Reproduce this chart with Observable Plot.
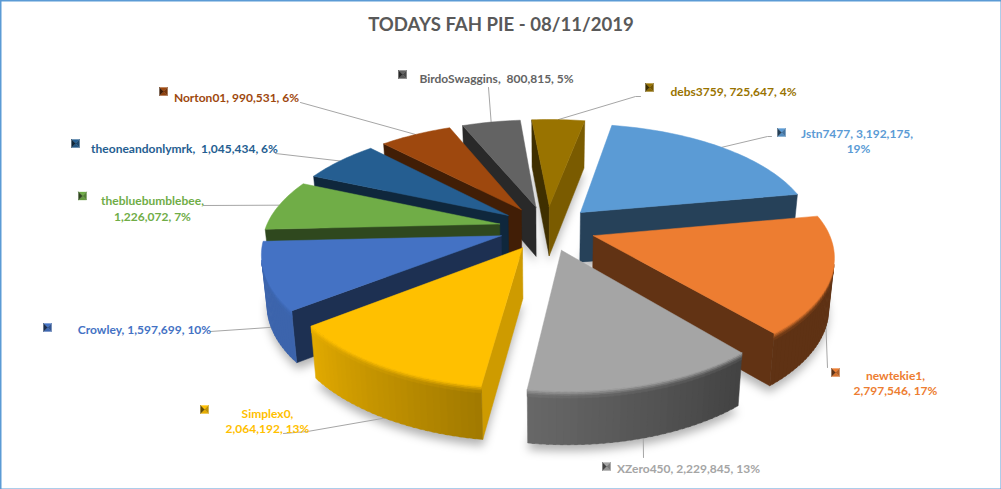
<!DOCTYPE html>
<html>
<head>
<meta charset="utf-8">
<script src="https://cdn.jsdelivr.net/npm/d3@7"></script>
<script src="https://cdn.jsdelivr.net/npm/@observablehq/plot@0.6"></script>
<style>html,body{margin:0;padding:0;background:#fff}svg{display:block}</style>
</head>
<body>
<div id="chart"></div>
<script>
// ---- data, as printed on the chart ----
const names = ["Jstn7477","newtekie1","XZero450","Simplex0","Crowley","thebluebumblebee","theoneandonlymrk","Norton01","BirdoSwaggins","debs3759"];
const values = [3192175,2797546,2229845,2064192,1597699,1226072,1045434,990531,800815,725647];
const percents = [19,17,13,13,10,7,6,6,5,4];
const separators = [", ",",\n",", ",",\n",", ",",\n",",  ",", ",",  ",", "];
const valueBreaks = [", \n",", ",", ",", ",", ",", ",", ",", ",", ",", "];
const colors = ["#5B9BD5","#ED7D31","#A5A5A5","#FFC000","#4472C4","#70AD47","#255E91","#9E480E","#636363","#997300"];
const titleText = "TODAYS FAH PIE - 08/11/2019";

// ---- layout ----
const W = 1001, H = 489;
const cx = 546.5, cy = 227.5, R = 234, Q = 0.463, K = 0.17, KX_FRONT = 0.15, SHEAR = 3.5, EXPLODE = 0.207, DEPTH = 50;
const firstAngle = 10.6;
const paintOrder = [9,8,7,6,5,4,3,0,1,2];
const labelX = [858,895,688,267,144,152,184,236,496,733];
const labelY = [140,382,467,420,328,207.5,147,96,77,90];
const keyX = [781,835,606,204,47,82,75,163,402,649];
const keyY = [132,372,466,409,327,195.5,143,91,74,87];
const leaderDepth = [0,1,1,1,1,0,0,0,0,0];
const elbows = [[[767,136],[771,136]],[[827,367]],[[643,457]],[[307,431],[283,433]],[[210,331]],[[203,205]],[[275,153]],[[300,102]],[[488,87]],[[635,96],[640,96]]];

const rad = d => d * Math.PI / 180;
const arcs = d3.pie().sort(null).startAngle(rad(firstAngle)).endAngle(rad(firstAngle + 360))(values);

function project(a, r, mid, z) {
  const X = Math.sin(a) * r + EXPLODE * Math.sin(mid);
  const Y = Math.cos(a) * r + EXPLODE * Math.cos(mid);
  const w = 1 / (1 + K * Y);
  const wx = Y < 0 ? 1 / (1 + KX_FRONT * Y) : w;
  return [cx + R * X * wx * (1 - 0.02 * z) + SHEAR * Math.max(0, -Y), cy - R * Q * Y * w + DEPTH * z * Math.pow(w, 0.3)];
}
const wallShade = d3.scaleLinear().domain([0,90,100,142,360]).range([.85,.85,.8,.42,.4]);
const arcShade = d3.scaleLinear().domain([0,140,188,232,360]).range([.4,.4,.63,.88,.88]);
const deg = a => ((a * 180 / Math.PI) % 360 + 360) % 360;
const shade = (c, f) => { const q = d3.rgb(c); return d3.rgb(q.r * f, q.g * f, q.b * f).formatHex(); };

const rows = [], shadowRows = [];
let pid = 0;
const add = (list, pts, fill) => { pid++; for (const [x, y] of [...pts, pts[0]]) list.push({id: pid, x, y, fill}); };
const bandZ = [0,.03,.06,.09,.13];
const bandT = [.12,.38,.66,.88];

for (const i of paintOrder) {
  const s = arcs[i], a0 = s.startAngle, a1 = s.endAngle, mid = (a0 + a1) / 2, top = colors[i];
  const n = Math.ceil((a1 - a0) / rad(1.5));
  const ang = d3.range(n + 1).map(j => a0 + (a1 - a0) * j / n);
  const P = (a, r, z) => project(a, r, mid, z);
  add(shadowRows, [P(0,0,1.12), ...ang.map(a => P(a,1,1.12))], "#000");
  const q0 = [P(0,0,0), P(a0,1,0), P(a0,1,1), P(0,0,1)];
  const q1 = [P(0,0,0), P(a1,1,0), P(a1,1,1), P(0,0,1)];
  const areaOf = pts => pts.reduce((t, p, j) => { const o = pts[(j + 1) % pts.length]; return t + p[0] * o[1] - o[0] * p[1]; }, 0);
  if (areaOf(q0) < 0) add(rows, q0, shade(top, wallShade(deg(a0 - rad(90)))));
  if (areaOf(q1) > 0) add(rows, q1, shade(top, wallShade(deg(a1 + rad(90)))));
  const segs = [];
  for (let j = 0; j < n; j++) {
    const a = ang[j], b = ang[j + 1];
    if (areaOf([P(a,1,0), P(b,1,0), P(b,1,1), P(a,1,1)]) < 0) segs.push([a, Math.min(b + rad(.6), a1), shade(top, arcShade(deg((a + b) / 2)))]);
  }
  for (const [a, b, wall] of segs) add(rows, [P(a,1,0), P(b,1,0), P(b,1,1), P(a,1,1)], wall);
  for (const [a, b, wall] of segs) bandT.forEach((t, k) => {
    add(rows, [P(a,1,bandZ[k]), P(b,1,bandZ[k]), P(b,1,bandZ[k+1]), P(a,1,bandZ[k+1])], d3.interpolateRgb(top, wall)(t));
  });
  add(rows, [P(0,0,0), ...ang.map(a => P(a,1,0))], top);
}

const leaderRows = [];
arcs.forEach((s, i) => {
  const mid = (s.startAngle + s.endAngle) / 2;
  [project(mid, 1, mid, leaderDepth[i]), ...elbows[i]].forEach(([x, y]) => leaderRows.push({id: i, x, y}));
});

const keyRows = [];
arcs.forEach((s, i) => {
  const x = keyX[i], y = keyY[i], h = 4, c = colors[i];
  const A=[x-h,y-h],B=[x+h,y-h],C=[x+h,y+h],D=[x-h,y+h],M=[x,y];
  add(keyRows,[A,B,M],shade(c,1));
  add(keyRows,[D,C,M],shade(c,.9));
  add(keyRows,[B,C,M],shade(c,.75));
  add(keyRows,[A,D,M],shade(c,.4));
});

const labels = names.map((name, i) => ({
  text: name + separators[i] + d3.format(",")(values[i]) + valueBreaks[i] + percents[i] + "%",
  x: labelX[i], y: labelY[i], color: colors[i]
}));

const chart = Plot.plot({
  width: W, height: H,
  marginTop: 0, marginRight: 0, marginBottom: 0, marginLeft: 0,
  x: {domain: [0, W], range: [0, W], axis: null},
  y: {domain: [0, H], range: [0, H], axis: null},
  style: {background: "#fff", overflow: "hidden"},
  marks: [
    Plot.line(shadowRows, {x: "x", y: "y", z: "id", fill: "#000", fillOpacity: 0.3, stroke: null, imageFilter: "blur(5px)"}),
    Plot.line(leaderRows, {x: "x", y: "y", z: "id", stroke: "#A6A6A6", strokeWidth: 1}),
    Plot.line(rows, {x: "x", y: "y", z: "id", fill: "fill", stroke: "fill", strokeWidth: 0.5}),
    Plot.line(keyRows, {x: "x", y: "y", z: "id", fill: "fill", stroke: "fill", strokeWidth: 0.3}),
    Plot.text(labels, {x: "x", y: "y", text: "text", fill: "color", fontFamily: "Lato", fontWeight: 700, fontSize: 12, lineHeight: 1.3, textAnchor: "middle", lineAnchor: "middle"}),
    Plot.text([titleText], {x: [W / 2], y: [25], text: d => d, fill: "#595959", fontFamily: "Lato", fontWeight: 700, fontSize: 18.6, textAnchor: "middle", lineAnchor: "middle"}),
    Plot.frame({stroke: "#5B9BD5", strokeWidth: 2})
  ]
});
document.getElementById("chart").append(chart);
</script>
</body>
</html>
